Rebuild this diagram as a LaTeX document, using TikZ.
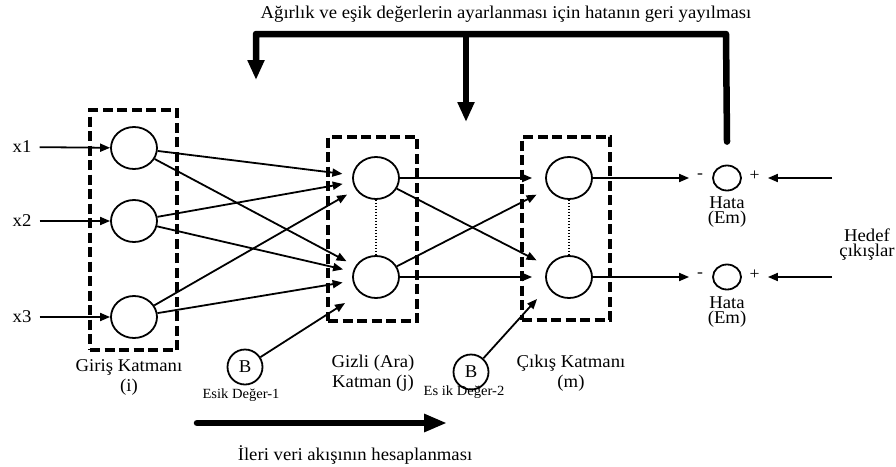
\documentclass[tikz,border=0pt]{standalone}
\usepackage{fontspec}
\setmainfont{Liberation Serif}[FakeStretch=1.04]
\usetikzlibrary{arrows.meta,shapes.geometric,calc}
\begin{document}
\begin{tikzpicture}[x=1pt,y=-1pt,
  neuron/.style={draw, line width=1.8pt, ellipse, minimum width=46pt, minimum height=42pt, inner sep=0pt},
  layerbox/.style={draw, line width=3.3pt, dash pattern=on 10pt off 4.5pt},
  conn/.style={line width=1.8pt, -{Triangle[length=10pt,width=8pt]}},
  bigarrow/.style={line width=6.5pt, line cap=round, line join=round, -{Triangle[length=20pt,width=16pt]}},
  lbl/.style={font=\fontsize{18}{20}\selectfont, inner sep=0pt, align=center},
  tight/.style={font=\fontsize{18}{15}\selectfont, inner sep=0pt},
  small/.style={font=\fontsize{14}{16}\selectfont, inner sep=0pt},
  sign/.style={font=\fontsize{17}{17}\selectfont, inner sep=0pt},
  bias/.style={draw, circle, line width=1.8pt, minimum size=35pt, inner sep=0pt, font=\fontsize{18}{20}\selectfont},
  err/.style={draw, ellipse, line width=1.8pt, minimum width=28pt, minimum height=25pt, inner sep=0pt},
  dotline/.style={line width=1.5pt, dash pattern=on 1.5pt off 1.5pt}
]
\useasboundingbox (0,0) rectangle (896,466);

% layer boxes
\node[layerbox, minimum width=87pt, minimum height=240pt] (inbox) at (133.5,230) {};
\node[layerbox, minimum width=89pt, minimum height=184pt] (hidbox) at (372.5,229) {};
\node[layerbox, minimum width=88pt, minimum height=183pt] (outbox) at (566,228.5) {};

% neurons
\node[neuron] (i1) at (134,148) {};
\node[neuron] (i2) at (134,221) {};
\node[neuron] (i3) at (134,317) {};
\node[neuron] (h1) at (376,178) {};
\node[neuron] (h2) at (376,277) {};
\node[neuron] (o1) at (569,178) {};
\node[neuron] (o2) at (569,277) {};
\node[err] (e1) at (727,178) {};
\node[err] (e2) at (727,277) {};
\node[bias] (b1) at (245,367) {B};
\node[bias] (b2) at (471,372) {B};

% input labels
\node[lbl] (x1) at (22,147) {x1};
\node[lbl] (x2) at (22,221) {x2};
\node[lbl] (x3) at (22,317) {x3};
\draw[conn, shorten <=8pt] (x1) -- (i1);
\draw[conn, shorten <=8pt] (x2) -- (i2);
\draw[conn, shorten <=8pt] (x3) -- (i3);

% input -> hidden
\foreach \s in {i1,i2,i3}{
  \draw[conn, shorten >=10pt] (\s) -- (h1);
  \draw[conn, shorten >=10pt] (\s) -- (h2);
}
% hidden -> output
\foreach \s in {h1,h2}{
  \draw[conn, shorten >=13pt] (\s) -- (o1);
  \draw[conn, shorten >=13pt] (\s) -- (o2);
}
\draw[dotline] (h1) -- (h2);
\draw[dotline] (o1) -- (o2);

% bias arrows
\coordinate (b1tip) at (345,303);
\coordinate (b2tip) at (537,299);
\draw[conn] (b1) -- (b1tip);
\draw[conn] (b2) -- (b2tip);

% output -> error
\draw[conn, shorten >=23pt] (o1) -- (e1);
\draw[conn, shorten >=23pt] (o2) -- (e2);
\coordinate (t1) at (832,178);
\coordinate (t2) at (832,277);
\draw[conn, shorten >=26pt] (t1) -- (e1);
\draw[conn, shorten >=26pt] (t2) -- (e2);
\node[sign] (m1) at (700,176) {-};
\node[sign] (p1) at (754.5,176) {+};
\node[sign] (m2) at (700,275) {-};
\node[sign] (p2) at (754.5,275) {+};
\node[tight, anchor=base] (hata1) at (727,208) {Hata};
\node[tight, anchor=base] (em1) at (727,223.5) {(Em)};
\node[tight, anchor=base] (hata2) at (727,308) {Hata};
\node[tight, anchor=base] (em2) at (727,323.5) {(Em)};
\node[tight, anchor=base] (hedef) at (867,241) {Hedef};
\node[tight, anchor=base] (cikis) at (867,256.5) {çıkışlar};

% layer labels
\node[lbl] (lin) at (129,377) {Giriş Katmanı\\(i)};
\node[lbl] (lhid) at (373,373) {Gizli (Ara)\\Katman (j)};
\node[lbl] (lout) at (571,373) {Çıkış Katmanı\\(m)};

\node[small] (es1) at (241,395) {Esik Değer-1};
\node[small] (es2) at (464,392) {Es ik Değer-2};

% forward arrow
\coordinate (fwA) at (197,423);
\coordinate (fwB) at (447,423);
\draw[line width=6.5pt, line cap=round, -{Triangle[length=23pt,width=17pt]}] (fwA) -- (fwB);
\node[lbl] (fwtext) at (355,455) {İleri veri akışının hesaplanması};

% feedback
\node[lbl] (title) at (506,14) {Ağırlık ve eşik değerlerin ayarlanması için hatanın geri yayılması};
\coordinate (fbstart) at ([yshift=23pt]e1.north);
\coordinate (fbtr) at (726,34);
\coordinate (fbmid) at (466,34);
\coordinate (fbtl) at (256,34);
\coordinate (fbleft) at (256,80);
\coordinate (fbmidend) at (466,122);
\draw[bigarrow] (fbstart) -- (fbtr) -- (fbtl) -- (fbleft);
\draw[bigarrow, line cap=butt] (fbmid) -- (fbmidend);
\end{tikzpicture}
\end{document}
